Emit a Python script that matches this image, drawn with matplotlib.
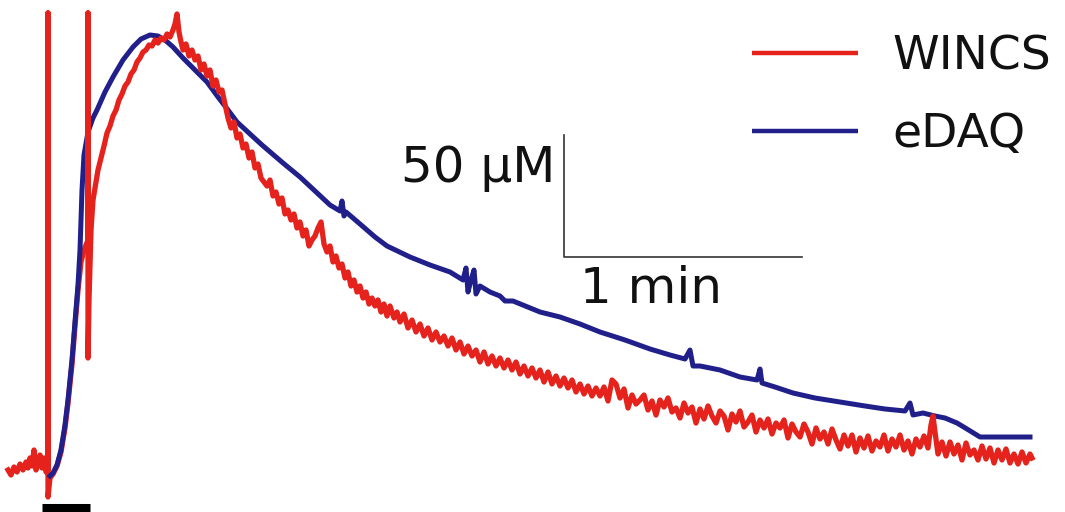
import numpy as np
import matplotlib.pyplot as plt

# traces (x: time in image units, y: signal, downward)
wincs = [
    (8, 470), (11, 475), (14, 467), (17, 472), (20, 464), (23, 470), (26, 462), (28, 468),
    (30, 458), (32, 466), (34, 450), (36, 470), (38, 463), (40, 455), (42, 468), (44, 458),
    (46, 472), (48, 470), (48, 13), (48, 497), (50, 478),
    (53, 474), (57, 466), (61, 452), (65, 428), (68, 403), (72, 364), (75, 326), (78, 290),
    (81, 262), (84, 250), (86, 245), (88, 240), (88, 13), (88, 358), (89, 300), (91, 230),
    (93, 200), (95, 188), (98, 170), (101, 158), (104, 146), (107, 133), (110, 126), (113, 116),
    (116, 110), (119, 100), (122, 94), (125, 86), (128, 82), (131, 74), (134, 70), (137, 62),
    (140, 58), (143, 52), (146, 50), (149, 45), (152, 46), (155, 40), (158, 43), (161, 38),
    (164, 40), (167, 34), (170, 37), (173, 30), (175, 24), (177, 14), (179, 32), (181, 42),
    (183, 50), (186, 44), (189, 56), (192, 50), (195, 60), (198, 56), (201, 70), (204, 64),
    (207, 76), (210, 70), (213, 86), (216, 80), (219, 92), (222, 90), (225, 104), (228, 118),
    (231, 128), (234, 122), (237, 138), (240, 134), (243, 148), (246, 144), (249, 158), (252, 152),
    (255, 168), (258, 164), (261, 178), (264, 182), (267, 186), (270, 180), (273, 196), (276, 192),
    (279, 204), (282, 198), (285, 214), (288, 210), (291, 220), (294, 214), (297, 228), (300, 222),
    (303, 236), (306, 230), (309, 246), (312, 240), (315, 236), (318, 228), (321, 222), (324, 244),
    (327, 252), (330, 246), (333, 262), (336, 256), (339, 268), (342, 264), (345, 278), (348, 272),
    (351, 286), (354, 280), (357, 292), (360, 286), (363, 298), (366, 292), (369, 304), (372, 298),
    (375, 306), (378, 300), (381, 312), (384, 304), (387, 316), (390, 306), (394, 318), (397, 312),
    (400, 322), (404, 314), (408, 328), (412, 320), (416, 332), (420, 324), (424, 336), (428, 328),
    (432, 340), (436, 332), (440, 342), (444, 336), (448, 346), (452, 338), (456, 350), (460, 342),
    (464, 354), (468, 346), (472, 356), (476, 350), (480, 362), (484, 352), (488, 364), (492, 356),
    (496, 366), (500, 358), (504, 368), (508, 360), (512, 370), (516, 362), (520, 374), (524, 366),
    (528, 376), (532, 368), (536, 378), (540, 370), (544, 382), (548, 372), (552, 384), (556, 376),
    (560, 386), (564, 378), (568, 388), (572, 380), (576, 392), (580, 384), (584, 394), (588, 386),
    (592, 396), (596, 388), (600, 396), (604, 387), (608, 401), (612, 380), (616, 384), (620, 398),
    (624, 389), (628, 408), (632, 395), (636, 404), (640, 400), (644, 395), (648, 410), (652, 401),
    (656, 415), (660, 400), (664, 407), (668, 398), (672, 412), (676, 408), (680, 418), (684, 403),
    (688, 413), (692, 407), (696, 423), (700, 409), (704, 419), (708, 406), (712, 416), (716, 423),
    (720, 411), (724, 416), (728, 430), (732, 414), (736, 422), (740, 411), (744, 427), (748, 422),
    (752, 415), (756, 432), (760, 420), (764, 428), (768, 419), (772, 434), (776, 423), (780, 428),
    (784, 420), (788, 438), (792, 424), (796, 432), (800, 437), (804, 424), (808, 432), (812, 444),
    (816, 428), (820, 439), (824, 432), (828, 444), (832, 429), (836, 440), (840, 449), (844, 435),
    (848, 446), (852, 435), (856, 452), (860, 438), (864, 448), (868, 436), (872, 451), (876, 441),
    (880, 447), (884, 435), (888, 451), (892, 439), (896, 447), (900, 435), (904, 450), (908, 441),
    (912, 454), (916, 439), (920, 447), (924, 436), (928, 448), (931, 425), (933, 416), (935, 432),
    (938, 454), (942, 442), (946, 456), (950, 442), (954, 454), (958, 445), (962, 460), (966, 443),
    (970, 455), (974, 450), (978, 460), (982, 446), (986, 459), (990, 448), (994, 463), (998, 450),
    (1002, 460), (1006, 449), (1010, 463), (1014, 454), (1018, 464), (1022, 452), (1026, 463),
    (1030, 454), (1032, 458),
]

edaq = [
    (50, 476), (53, 473), (57, 465), (61, 450), (65, 425), (68, 400), (72, 360), (75, 322),
    (78, 285), (80, 250), (82, 190), (84, 155), (88, 132), (93, 118), (97, 110), (105, 92),
    (113, 77), (123, 60), (133, 47), (141, 39), (150, 35), (158, 36), (165, 40), (173, 47),
    (183, 58), (195, 70), (207, 82), (218, 97), (228, 110), (237, 122), (250, 134), (262, 145),
    (283, 163), (300, 177), (315, 191), (330, 205), (340, 211), (342, 201), (344, 216), (346, 212),
    (360, 224), (375, 237), (387, 246), (410, 257), (430, 265), (450, 272), (463, 280), (466, 268),
    (468, 292), (471, 280), (474, 270), (476, 294), (480, 286), (490, 292), (500, 296), (505, 301),
    (513, 301), (540, 312), (560, 317), (580, 324), (600, 332), (625, 340), (650, 349), (670, 355),
    (685, 359), (690, 350), (693, 366), (700, 366), (720, 370), (740, 377), (757, 380), (760, 369),
    (762, 383), (775, 387), (793, 393), (815, 398), (840, 402), (865, 406), (885, 409), (905, 411),
    (910, 403), (913, 415), (923, 413), (935, 416), (945, 418), (957, 423), (967, 429), (980, 437),
    (1000, 437), (1015, 437), (1030, 437),
]

labels = ["WINCS", "eDAQ"]
colors = ["#e5221c", "#21208a"]

# scale bar: 1 min horizontally, 50 uM vertically (image units)
bar_origin = (564, 257)
bar_len_t = 238
bar_len_c = 122
stim_bar = (42, 90)   # stimulation period marker

fig = plt.figure(figsize=(10.65, 5.12), dpi=100)
ax = fig.add_axes([0, 0, 1, 1])
ax.set_xlim(0, 1065)
ax.set_ylim(512, 0)
ax.axis('off')

et, ec = zip(*edaq)
wt, wc = zip(*wincs)
# the early rise of WINCS sits under eDAQ, the rest is drawn on top
split = 32
ax.plot(wt[:split + 1], wc[:split + 1], color=colors[0], lw=3.8, zorder=2)
ax.plot(wt[split:], wc[split:], color=colors[0], lw=3.8, zorder=4)
ax.plot(et, ec, color=colors[1], lw=3.6, zorder=3)

# stimulation bar
ax.plot(stim_bar, [508, 508], color='black', lw=6.5, solid_capstyle='butt', zorder=5)

# scale bar
x0, y0 = bar_origin
ax.plot([x0, x0, x0 + bar_len_t], [y0 - bar_len_c, y0, y0], color='#333333', lw=1.2)
ax.text(x0 - 9, y0 - 75, "50 \u00b5M", fontsize=36, ha='right', va='baseline', color='#111111')
ax.text(x0 + 16, y0 + 46, "1 min", fontsize=36, ha='left', va='baseline', color='#111111')

# legend
for i, (lab, col) in enumerate(zip(labels, colors)):
    yy = 53 + 78 * i
    ax.plot([752, 858], [yy, yy], color=col, lw=3.2, solid_capstyle='butt')
    ax.text(892, yy + 16, lab, fontsize=34, ha='left', va='baseline', color='#111111')

plt.savefig("out.png", dpi=100)
